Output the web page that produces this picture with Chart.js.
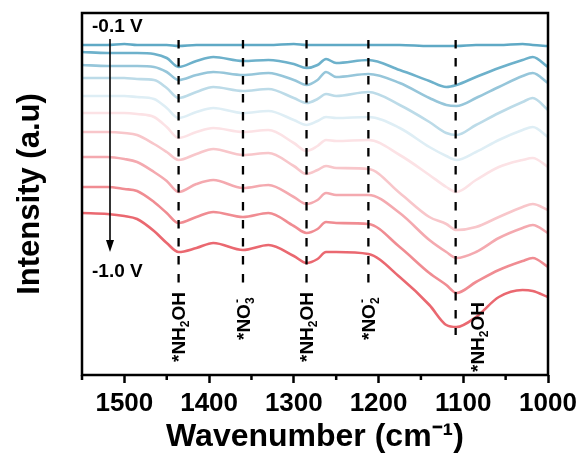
<!DOCTYPE html>
<html><head><meta charset="utf-8">
<script src="https://cdn.jsdelivr.net/npm/chart.js@4"></script>
<style>html,body{margin:0;padding:0;background:#fff;}#wrap{width:582px;height:459px;}</style>
</head><body>
<div id="wrap"><canvas id="c" width="582" height="459"></canvas></div>
<script>
// ---- data (intensity in a.u.) ----
const wavenumbers = [1550,1520,1500,1485,1465,1450,1436,1415,1395,1360,1330,1300,1285,1272,1262,1250,1212,1175,1140,1120,1108,1085,1058,1030,1018,1000];
const potentials = ['-0.1 V','-0.2 V','-0.3 V','-0.4 V','-0.5 V','-0.6 V','-0.7 V','-0.8 V','-0.9 V','-1.0 V'];
const s01 = [3.30,3.30,3.31,3.30,3.30,3.30,3.29,3.30,3.30,3.30,3.30,3.31,3.30,3.30,3.30,3.30,3.30,3.30,3.29,3.29,3.29,3.30,3.30,3.31,3.30,3.29];
const s02 = [3.23,3.22,3.22,3.22,3.21,3.17,3.08,3.14,3.18,3.14,3.15,3.11,3.07,3.10,3.16,3.12,3.15,3.05,2.94,2.88,2.90,2.98,3.07,3.15,3.18,3.08];
const s03 = [3.10,3.09,3.09,3.09,3.08,3.03,2.95,3.00,3.03,3.00,3.02,2.95,2.90,2.95,3.03,2.98,3.01,2.92,2.77,2.70,2.69,2.77,2.88,2.99,3.02,2.92];
const s04 = [2.97,2.97,2.97,2.96,2.95,2.87,2.77,2.83,2.88,2.84,2.86,2.77,2.72,2.76,2.81,2.79,2.83,2.70,2.53,2.42,2.40,2.50,2.62,2.73,2.77,2.65];
const s05 = [2.79,2.79,2.79,2.78,2.76,2.67,2.57,2.63,2.67,2.62,2.64,2.55,2.50,2.54,2.58,2.57,2.58,2.47,2.28,2.19,2.15,2.23,2.35,2.45,2.48,2.38];
const s06 = [2.62,2.62,2.62,2.61,2.58,2.48,2.37,2.43,2.47,2.43,2.45,2.32,2.24,2.29,2.35,2.34,2.35,2.20,2.00,1.88,1.83,1.95,2.08,2.15,2.17,2.08];
const s07 = [2.43,2.43,2.42,2.40,2.31,2.23,2.15,2.21,2.26,2.20,2.22,2.09,2.01,2.05,2.09,2.07,2.06,1.82,1.58,1.51,1.45,1.48,1.58,1.68,1.71,1.65];
const s08 = [2.18,2.18,2.16,2.13,2.03,1.94,1.83,1.91,1.95,1.87,1.90,1.78,1.71,1.75,1.82,1.80,1.80,1.62,1.35,1.23,1.17,1.23,1.37,1.47,1.50,1.42];
const s09 = [1.88,1.88,1.86,1.84,1.73,1.62,1.52,1.58,1.63,1.58,1.62,1.49,1.42,1.46,1.53,1.52,1.51,1.28,1.02,0.90,0.82,0.93,1.05,1.14,1.17,1.08];
const s10 = [1.62,1.61,1.59,1.56,1.44,1.32,1.23,1.27,1.32,1.25,1.30,1.19,1.12,1.16,1.23,1.23,1.21,0.98,0.70,0.50,0.48,0.58,0.78,0.85,0.84,0.78];
const seriesList = [s01,s02,s03,s04,s05,s06,s07,s08,s09,s10];
const markerWavenumbers = [1436,1360,1285,1212,1109];
const markerLabels = ['*NH_2OH','*NO_3^-','*NH_2OH','*NO_2^-','*NH_2OH'];
const xMajorStep = 100, xMinorStep = 50;
const xMin = 1000, xMax = 1550, yMin = 0, yMax = 3.62;

// ---- style ----
const seriesColors = ['#5fa9c5','#6db1cb','#96c6da','#bcdbe8','#deeef5','#fce2e5','#f8c6ca','#f4a9af','#f08c92','#ea6870'];
const FONT = '"Liberation Sans", Arial, Helvetica, sans-serif';
const markerStyle = { top: 40, bottoms: [288,283,288,283,335], labelStarts: [362,340,362,340,372], labelDx: [0,0,0,0,22], font: 19 };
const arrowStyle = { x: 110, y0: 39, y1: 252 };
const vLabelStyle = { x: 92, yTop: 27, yBottom: 271.5, font: 19 };

const datasets = seriesList.map((s, i) => ({
  label: potentials[i],
  data: wavenumbers.map((w, j) => ({ x: w, y: s[j] })),
  borderColor: seriesColors[i],
  borderWidth: 2.6,
  pointRadius: 0,
  fill: false,
  cubicInterpolationMode: 'monotone'
}));

function drawRichRotated(ctx, str, x, y, F) {
  // text reads bottom-to-top starting at (x, y)
  ctx.save();
  ctx.translate(x, y);
  ctx.rotate(-Math.PI / 2);
  ctx.fillStyle = '#000';
  ctx.textAlign = 'left';
  ctx.textBaseline = 'alphabetic';
  const base = 0.35 * F;
  const small = Math.round(F * 0.64);
  let cur = 0, lastSubX = 0, i = 0;
  while (i < str.length) {
    const ch = str[i];
    if (ch === '_') {
      const c = str[i + 1];
      ctx.font = 'bold ' + small + 'px ' + FONT;
      lastSubX = cur;
      ctx.fillText(c, cur, base + 0.22 * F);
      cur += ctx.measureText(c).width;
      i += 2;
    } else if (ch === '^') {
      const c = str[i + 1];
      ctx.font = 'bold ' + small + 'px ' + FONT;
      ctx.fillText(c, lastSubX + 1, base - 0.45 * F);
      i += 2;
    } else {
      let j = i;
      while (j < str.length && str[j] !== '_' && str[j] !== '^') j++;
      const t = str.slice(i, j);
      ctx.font = 'bold ' + F + 'px ' + FONT;
      ctx.fillText(t, cur, base);
      cur += ctx.measureText(t).width;
      i = j;
    }
  }
  ctx.restore();
}

const annotations = {
  id: 'annotations',
  afterDraw(chart) {
    const ctx = chart.ctx, a = chart.chartArea, xs = chart.scales.x;
    ctx.save();
    // frame
    ctx.strokeStyle = '#000'; ctx.lineWidth = 2.5;
    ctx.strokeRect(a.left, a.top, a.right - a.left, a.bottom - a.top);
    // minor ticks
    ctx.lineWidth = 2.5;
    for (let v = xMax; v >= xMin; v -= xMinorStep) {
      if (v % xMajorStep === 0) continue;
      const px = xs.getPixelForValue(v);
      ctx.beginPath(); ctx.moveTo(px, a.bottom); ctx.lineTo(px, a.bottom + 5); ctx.stroke();
    }
    // dashed marker lines and labels
    ctx.setLineDash([8.5, 9.5]);
    ctx.lineWidth = 2.3;
    markerWavenumbers.forEach((w, k) => {
      const px = xs.getPixelForValue(w);
      ctx.beginPath(); ctx.moveTo(px, markerStyle.top); ctx.lineTo(px, markerStyle.bottoms[k]); ctx.stroke();
    });
    ctx.setLineDash([]);
    markerWavenumbers.forEach((w, k) => {
      const px = xs.getPixelForValue(w) + markerStyle.labelDx[k];
      drawRichRotated(ctx, markerLabels[k], px, markerStyle.labelStarts[k], markerStyle.font);
    });
    // arrow
    ctx.strokeStyle = '#000'; ctx.fillStyle = '#000'; ctx.lineWidth = 1.6;
    ctx.beginPath(); ctx.moveTo(arrowStyle.x, arrowStyle.y0); ctx.lineTo(arrowStyle.x, arrowStyle.y1 - 8); ctx.stroke();
    ctx.beginPath();
    ctx.moveTo(arrowStyle.x, arrowStyle.y1);
    ctx.lineTo(arrowStyle.x - 4, arrowStyle.y1 - 12);
    ctx.lineTo(arrowStyle.x + 4, arrowStyle.y1 - 12);
    ctx.closePath(); ctx.fill();
    // potential labels
    ctx.font = 'bold ' + vLabelStyle.font + 'px ' + FONT;
    ctx.textAlign = 'left'; ctx.textBaseline = 'middle';
    ctx.fillText(potentials[0], vLabelStyle.x, vLabelStyle.yTop);
    ctx.fillText(potentials[potentials.length - 1], vLabelStyle.x, vLabelStyle.yBottom);
    ctx.restore();
  }
};

new Chart(document.getElementById('c'), {
  type: 'line',
  data: { datasets },
  options: {
    responsive: false,
    animation: false,
    layout: { padding: { top: 13, right: 34, left: 0, bottom: 0 } },
    plugins: { legend: { display: false }, tooltip: { enabled: false } },
    scales: {
      x: {
        type: 'linear', reverse: true, min: xMin, max: xMax,
        afterFit(s) { s.height = 84; },
        border: { display: false },
        grid: { drawOnChartArea: false, drawTicks: true, tickLength: 8, tickWidth: 2.5,
                tickColor: (c) => (c.tick && c.tick.value % xMajorStep === 0) ? '#000' : 'rgba(0,0,0,0)' },
        ticks: { stepSize: xMinorStep, autoSkip: false, maxRotation: 0, minRotation: 0, padding: 5,
                 color: '#000', font: { family: FONT, size: 26, weight: 'bold' },
                 callback: (v) => (v % xMajorStep === 0 ? String(v) : '') },
        title: { display: true, text: 'Wavenumber (cm\u207B\u00B9)', color: '#000',
                 font: { family: FONT, size: 32, weight: 'bold' }, padding: { top: 4, bottom: 3 } }
      },
      y: {
        type: 'linear', min: yMin, max: yMax,
        afterFit(s) { s.width = 82; },
        border: { display: false },
        grid: { display: false },
        ticks: { display: false },
        title: { display: true, text: 'Intensity (a.u)', color: '#000',
                 font: { family: FONT, size: 31, weight: 'bold' }, padding: { top: 12, bottom: 0 } }
      }
    }
  },
  plugins: [annotations]
});
</script>
</body></html>
